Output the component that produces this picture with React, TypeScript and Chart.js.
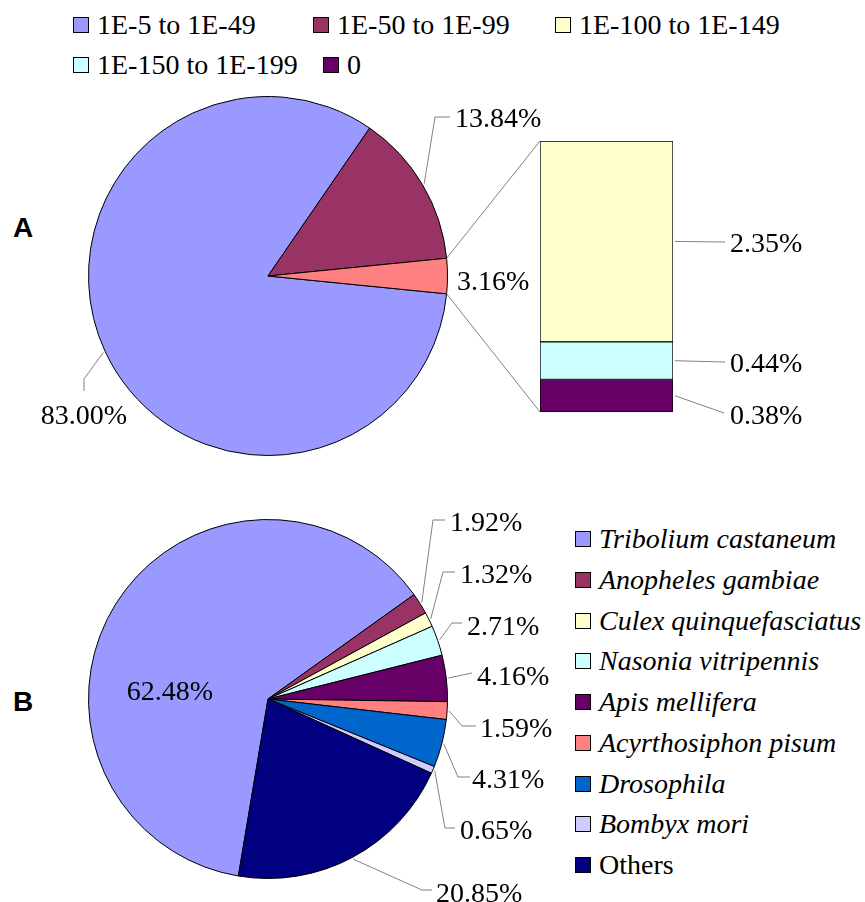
import React, { useEffect, useRef } from 'react';
import { Chart, registerables } from 'chart.js';

Chart.register(...registerables);

// ---------------- Data ----------------
const evalueRanges = ['1E-5 to 1E-49', '1E-50 to 1E-99', '1E-100 to 1E-149', '1E-150 to 1E-199', '0'];
const pieALabels = ['1E-5 to 1E-49', '1E-50 to 1E-99', '1E-100 and lower'];
const pieAValues = [83.0, 13.84, 3.16];
const barLabels = ['1E-100 to 1E-149', '1E-150 to 1E-199', '0'];
const barValues = [2.35, 0.44, 0.38];
const speciesNames = [
  'Tribolium castaneum',
  'Anopheles gambiae',
  'Culex quinquefasciatus',
  'Nasonia vitripennis',
  'Apis mellifera',
  'Acyrthosiphon pisum',
  'Drosophila',
  'Bombyx mori',
  'Others',
];
const speciesValues = [62.48, 1.92, 1.32, 2.71, 4.16, 1.59, 4.31, 0.65, 20.85];

// ---------------- Styles ----------------
const evalueColors = ['#9999FF', '#993366', '#FFFFCC', '#CCFFFF', '#660066'];
const pieAColors = ['#9999FF', '#993366', '#FF8080'];
const barColors = ['#FFFFCC', '#CCFFFF', '#660066'];
const speciesColors = ['#9999FF', '#993366', '#FFFFCC', '#CCFFFF', '#660066', '#FF8080', '#0066CC', '#CCCCFF', '#000080'];
const speciesItalic = [true, true, true, true, true, true, true, true, false];

const W = 865;
const H = 902;
const SERIF = '"Liberation Serif", "Times New Roman", serif';
const FONT_PX = 28;
const DIGIT_HALF = 9.5;
const LEADER = '#808080';

// ---------------- Layout ----------------
const pieABox = { left: 88, top: 96, right: 448, bottom: 456 };
const pieBBox = { left: 88, top: 519, right: 448, bottom: 879 };
const barBox = { left: 540, top: 141, right: 673, bottom: 412 };
const pieARotation = 95.7;
const pieBRotation = 189.5;

type Lbl = { tx: number; ty: number; align?: CanvasTextAlign; end?: number[]; elbow?: number[] };

const pieALabelLayout: Lbl[] = [
  { tx: 84, ty: 414, align: 'center', end: [84, 391], elbow: [84, 379] },
  { tx: 455, ty: 117, end: [450, 117], elbow: [435, 117] },
  { tx: 457, ty: 280 },
];
const barLabelLayout: Lbl[] = [
  { tx: 730, ty: 242, end: [725, 242] },
  { tx: 730, ty: 362, end: [725, 362] },
  { tx: 730, ty: 414, end: [724, 413] },
];
const pieBLabelLayout: Lbl[] = [
  { tx: 170, ty: 690, align: 'center' },
  { tx: 450, ty: 521, end: [445, 520], elbow: [433, 520] },
  { tx: 460, ty: 573, end: [455, 572], elbow: [443, 572] },
  { tx: 467, ty: 625, end: [462, 623], elbow: [452, 623] },
  { tx: 477, ty: 675, end: [472, 673] },
  { tx: 480, ty: 727, end: [476, 726], elbow: [462, 726] },
  { tx: 472, ty: 778, end: [470, 777], elbow: [458, 777] },
  { tx: 460, ty: 829, end: [455, 828], elbow: [445, 828] },
  { tx: 436, ty: 892, end: [432, 890], elbow: [422, 890] },
];

const legendAPos = [
  [73, 25],
  [313, 25],
  [555, 25],
  [73, 65],
  [323, 65],
];
const legendBX = 575;
const legendBY0 = 539;
const legendBStep = 40.75;

// ---------------- Helpers ----------------
const fmt = (v: number) => `${v.toFixed(2)}%`;

function drawLeader(ctx: CanvasRenderingContext2D, pts: number[][]) {
  ctx.save();
  ctx.strokeStyle = LEADER;
  ctx.lineWidth = 1;
  ctx.beginPath();
  ctx.moveTo(pts[0][0], pts[0][1]);
  for (let i = 1; i < pts.length; i++) ctx.lineTo(pts[i][0], pts[i][1]);
  ctx.stroke();
  ctx.restore();
}

function drawPct(ctx: CanvasRenderingContext2D, text: string, x: number, y: number, align: CanvasTextAlign) {
  ctx.save();
  ctx.font = `${FONT_PX}px ${SERIF}`;
  ctx.fillStyle = '#000';
  ctx.textAlign = align;
  ctx.textBaseline = 'alphabetic';
  ctx.fillText(text, x, y + DIGIT_HALF);
  ctx.restore();
}

function edgePoint(arc: any, angle: number, extra: number) {
  const p = arc.getProps(['x', 'y', 'outerRadius'], true);
  const r = p.outerRadius + extra;
  return [p.x + r * Math.cos(angle), p.y + r * Math.sin(angle)];
}

function pieLabelPlugin(values: number[], layout: Lbl[]) {
  return {
    id: 'pieLabels',
    afterDraw(chart: any) {
      const ctx = chart.ctx as CanvasRenderingContext2D;
      const arcs = chart.getDatasetMeta(0).data;
      values.forEach((v, i) => {
        const L = layout[i];
        const arc = arcs[i];
        const { startAngle, endAngle } = arc.getProps(['startAngle', 'endAngle'], true);
        const mid = (startAngle + endAngle) / 2;
        if (L.end) {
          const pts = [edgePoint(arc, mid, 2)];
          if (L.elbow) pts.push(L.elbow);
          pts.push(L.end);
          drawLeader(ctx, pts);
        }
        drawPct(ctx, fmt(v), L.tx, L.ty, L.align || 'left');
      });
    },
  };
}

function padFor(box: { left: number; top: number; right: number; bottom: number }) {
  return { left: box.left, top: box.top, right: W - box.right, bottom: H - box.bottom };
}

const canvasStyle: React.CSSProperties = { position: 'absolute', left: 0, top: 0, width: W, height: H };

function LegendItem({ x, y, color, text, italic }: { x: number; y: number; color: string; text: string; italic?: boolean }) {
  return (
    <>
      <div
        style={{
          position: 'absolute',
          left: x,
          top: y - 8,
          width: 16,
          height: 16,
          boxSizing: 'border-box',
          border: '1px solid #000',
          background: color,
        }}
      />
      <div
        style={{
          position: 'absolute',
          left: x + 24,
          top: y - 14,
          height: 28,
          lineHeight: '28px',
          fontSize: FONT_PX,
          fontFamily: SERIF,
          fontStyle: italic ? 'italic' : 'normal',
          whiteSpace: 'nowrap',
          color: '#000',
        }}
      >
        {text}
      </div>
    </>
  );
}

function PanelLetter({ x, y, text }: { x: number; y: number; text: string }) {
  return (
    <div
      style={{
        position: 'absolute',
        left: x,
        top: y - 14,
        lineHeight: '28px',
        fontSize: 28,
        fontWeight: 'bold',
        fontFamily: '"Liberation Sans", Arial, sans-serif',
        color: '#000',
      }}
    >
      {text}
    </div>
  );
}

export default function App() {
  const pieARef = useRef<HTMLCanvasElement>(null);
  const barRef = useRef<HTMLCanvasElement>(null);
  const pieBRef = useRef<HTMLCanvasElement>(null);

  useEffect(() => {
    const common = {
      responsive: false,
      maintainAspectRatio: false,
      animation: false as const,
      events: [] as any[],
    };

    const pieA = new Chart(pieARef.current!, {
      type: 'pie',
      data: {
        labels: pieALabels,
        datasets: [
          {
            data: pieAValues,
            backgroundColor: pieAColors,
            borderColor: '#000',
            borderWidth: 1,
          },
        ],
      },
      options: {
        ...common,
        rotation: pieARotation,
        layout: { padding: padFor(pieABox) },
        plugins: { legend: { display: false }, tooltip: { enabled: false } },
      },
      plugins: [pieLabelPlugin(pieAValues, pieALabelLayout)],
    });

    const n = barValues.length;
    const order = [...barValues.keys()].reverse(); // bottom segment first
    const bar = new Chart(barRef.current!, {
      type: 'bar',
      data: {
        labels: ['E-value'],
        datasets: order.map((i) => ({
          label: barLabels[i],
          data: [barValues[i]],
          backgroundColor: barColors[i],
          borderColor: '#000',
          borderWidth: 1,
          borderSkipped: false,
          barPercentage: 1,
          categoryPercentage: 1,
        })),
      },
      options: {
        ...common,
        layout: { padding: padFor(barBox) },
        scales: {
          x: { display: false, stacked: true },
          y: { display: false, stacked: true, min: 0, max: barValues.reduce((a, b) => a + b, 0) },
        },
        plugins: { legend: { display: false }, tooltip: { enabled: false } },
      },
      plugins: [
        {
          id: 'barLabels',
          afterDraw(chart: any) {
            const ctx = chart.ctx as CanvasRenderingContext2D;
            const els = order.map((_, d) => chart.getDatasetMeta(d).data[0]);
            const bottomEl = els[0];
            const topEl = els[els.length - 1];
            const left = bottomEl.x - bottomEl.width / 2;
            const right = bottomEl.x + bottomEl.width / 2;
            const top = Math.min(topEl.y, topEl.base);
            const bottom = Math.max(bottomEl.y, bottomEl.base);
            const arc = pieA.getDatasetMeta(0).data[pieAValues.length - 1] as any;
            const { startAngle, endAngle } = arc.getProps(['startAngle', 'endAngle'], true);
            drawLeader(ctx, [edgePoint(arc, startAngle, 0), [left, top]]);
            drawLeader(ctx, [edgePoint(arc, endAngle, 0), [left, bottom]]);
            barValues.forEach((v, i) => {
              const d = n - 1 - i;
              const el = els[d];
              const midY = (el.y + el.base) / 2;
              const L = barLabelLayout[i];
              drawLeader(ctx, [[right + 2, midY], L.end!]);
              drawPct(ctx, fmt(v), L.tx, L.ty, 'left');
            });
          },
        },
      ],
    });

    const pieB = new Chart(pieBRef.current!, {
      type: 'pie',
      data: {
        labels: speciesNames,
        datasets: [
          {
            data: speciesValues,
            backgroundColor: speciesColors,
            borderColor: '#000',
            borderWidth: 1,
          },
        ],
      },
      options: {
        ...common,
        rotation: pieBRotation,
        layout: { padding: padFor(pieBBox) },
        plugins: { legend: { display: false }, tooltip: { enabled: false } },
      },
      plugins: [pieLabelPlugin(speciesValues, pieBLabelLayout)],
    });

    return () => {
      pieA.destroy();
      bar.destroy();
      pieB.destroy();
    };
  }, []);

  return (
    <div style={{ position: 'absolute', left: 0, top: 0, width: W, height: H, background: '#fff', overflow: 'hidden' }}>
      {evalueRanges.map((t, i) => (
        <LegendItem key={t} x={legendAPos[i][0]} y={legendAPos[i][1]} color={evalueColors[i]} text={t} />
      ))}
      {speciesNames.map((t, i) => (
        <LegendItem
          key={t}
          x={legendBX}
          y={legendBY0 + i * legendBStep}
          color={speciesColors[i]}
          text={t}
          italic={speciesItalic[i]}
        />
      ))}
      <PanelLetter x={13} y={228} text="A" />
      <PanelLetter x={13} y={702} text="B" />
      <canvas ref={pieARef} width={W} height={H} style={canvasStyle} />
      <canvas ref={barRef} width={W} height={H} style={canvasStyle} />
      <canvas ref={pieBRef} width={W} height={H} style={canvasStyle} />
    </div>
  );
}
